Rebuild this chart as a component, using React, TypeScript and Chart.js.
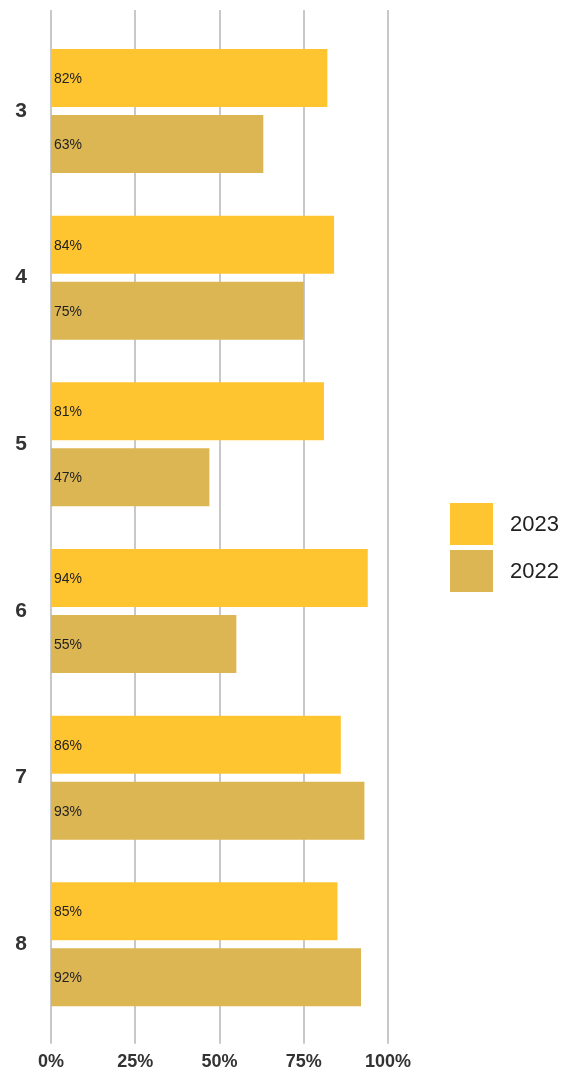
import React, { useEffect, useRef } from "react";
import { Chart, registerables } from "chart.js";

Chart.register(...registerables);

const categories = ["3", "4", "5", "6", "7", "8"];
const series2023 = [82, 84, 81, 94, 86, 85];
const series2022 = [63, 75, 47, 55, 93, 92];
const xTicks = [0, 25, 50, 75, 100];
const seriesNames = ["2023", "2022"];
const seriesColors = ["#FFC530", "#DCB652"];

const FONT = "'Liberation Sans', Arial, sans-serif";

const gridPlugin = {
  id: "extGrid",
  beforeDatasetsDraw(chart: any) {
    const ctx = chart.ctx;
    const xs = chart.scales.x;
    ctx.save();
    ctx.strokeStyle = "#c8c8c8";
    ctx.lineWidth = 2;
    for (const v of xTicks) {
      const px = Math.round(xs.getPixelForValue(v));
      ctx.beginPath();
      ctx.moveTo(px, 10);
      ctx.lineTo(px, chart.chartArea.bottom + 16);
      ctx.stroke();
    }
    ctx.restore();
  },
};

const labelPlugin = {
  id: "barLabels",
  afterDatasetsDraw(chart: any) {
    const ctx = chart.ctx;
    ctx.save();
    ctx.font = `14px ${FONT}`;
    ctx.fillStyle = "#222";
    ctx.textAlign = "left";
    ctx.textBaseline = "middle";
    chart.data.datasets.forEach((ds: any, di: number) => {
      const meta = chart.getDatasetMeta(di);
      meta.data.forEach((el: any, i: number) => {
        ctx.fillText(ds.data[i] + "%", chart.chartArea.left + 3, el.y + 1);
      });
    });
    ctx.restore();
  },
};

export default function App() {
  const ref = useRef<HTMLCanvasElement>(null);
  useEffect(() => {
    if (!ref.current) return;
    const chart = new Chart(ref.current, {
      type: "bar",
      data: {
        labels: categories,
        datasets: [
          { label: seriesNames[0], data: series2023, backgroundColor: seriesColors[0] },
          { label: seriesNames[1], data: series2022, backgroundColor: seriesColors[1] },
        ],
      },
      options: {
        indexAxis: "y",
        responsive: false,
        animation: false,
        events: [],
        datasets: { bar: { barPercentage: 0.879, categoryPercentage: 0.792 } },
        layout: { padding: { left: 0, right: 182, top: 27.67, bottom: 0 } },
        plugins: { legend: { display: false }, tooltip: { enabled: false } },
        scales: {
          x: {
            min: 0,
            max: 100,
            afterFit: (s: any) => {
              s.height = 43.33;
              s.paddingLeft = 0;
              s.paddingRight = 0;
            },
            afterBuildTicks: (s: any) => {
              s.ticks = xTicks.map((v) => ({ value: v }));
            },
            grid: { display: false },
            border: { display: false },
            ticks: {
              padding: 16,
              color: "#333",
              font: { family: FONT, size: 18, weight: "bold" },
              callback: (v: any) => v + "%",
              maxRotation: 0,
            },
          },
          y: {
            afterFit: (s: any) => {
              s.width = 51;
              s.paddingTop = 0;
              s.paddingBottom = 0;
            },
            grid: { display: false },
            border: { display: false },
            ticks: {
              padding: 16,
              color: "#333",
              font: { family: FONT, size: 21, weight: "bold" },
            },
          },
        },
      },
      plugins: [gridPlugin, labelPlugin],
    });
    return () => chart.destroy();
  }, []);

  return (
    <div style={{ position: "absolute", left: 0, top: 0, width: 570, height: 1071, background: "#fff" }}>
      <canvas ref={ref} width={570} height={1071} style={{ position: "absolute", left: 0, top: 0 }} />
      {seriesNames.map((n, i) => (
        <div
          key={n}
          style={{
            position: "absolute",
            left: 450,
            top: 503 + i * 47,
            height: 42,
            display: "flex",
            alignItems: "center",
            fontFamily: FONT,
            fontSize: 22,
            color: "#222",
          }}
        >
          <div style={{ width: 43, height: 42, background: seriesColors[i], marginRight: 17 }} />
          <span>{n}</span>
        </div>
      ))}
    </div>
  );
}
